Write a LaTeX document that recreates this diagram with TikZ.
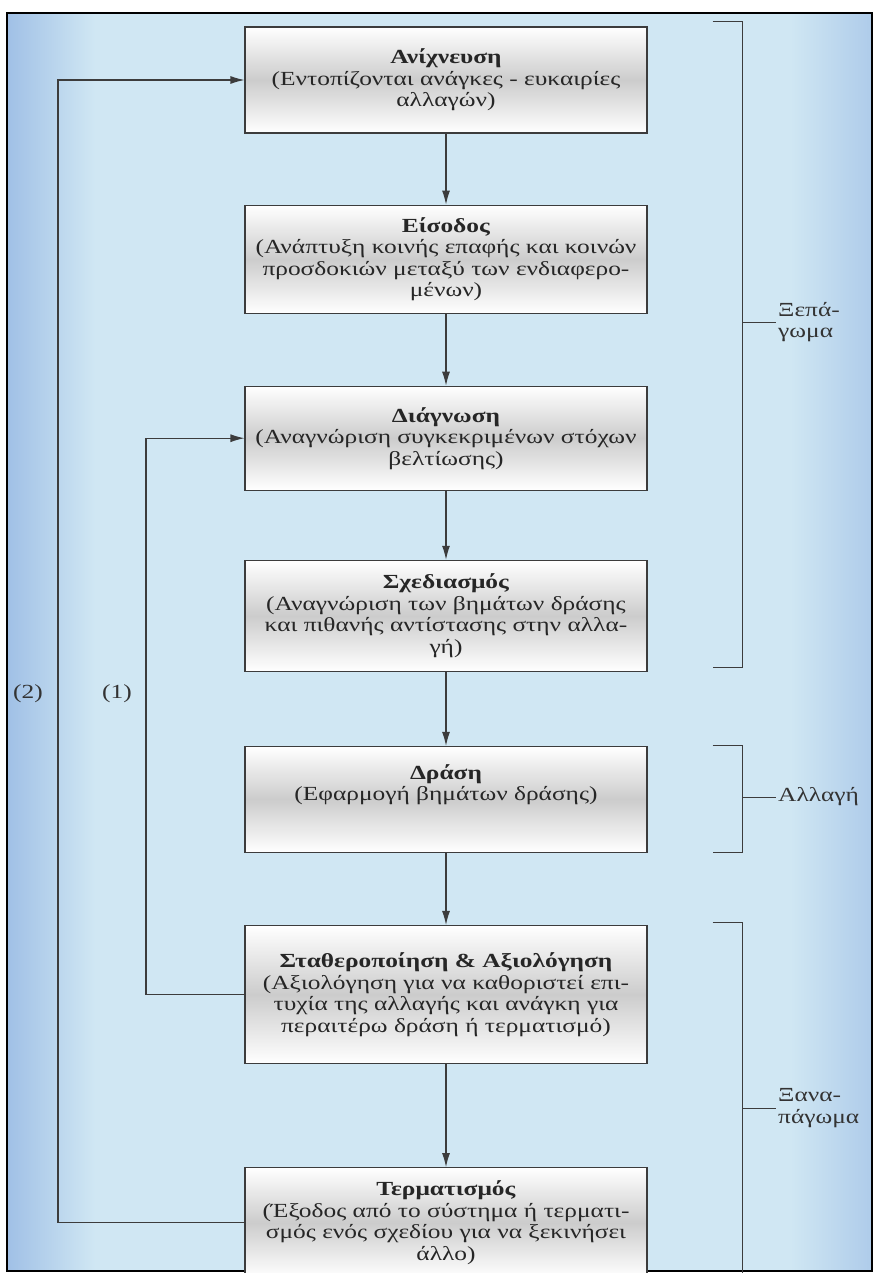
\documentclass[tikz,border=0pt]{standalone}
\usepackage{fontspec}
\setmainfont{Liberation Serif}[FakeStretch=1.27]
\usepackage{tikz}
\usetikzlibrary{arrows.meta,positioning,calc}

\definecolor{bgblue}{RGB}{208,231,243}
\definecolor{edgeblue}{RGB}{160,192,230}
\definecolor{linegray}{RGB}{60,60,60}

\begin{document}
\begin{tikzpicture}[
    x=1pt, y=-1pt,
    font=\fontsize{20}{21.5}\selectfont,
    stage/.style={rectangle, draw=linegray, line width=1.1pt, align=center,
        minimum width=402pt, inner sep=2pt, text=black!85,
        top color=white, bottom color=white, middle color=gray!40},
    side/.style={align=left, inner sep=2pt, text=black!80},
    arrow/.style={-{Latex[length=14pt,width=8pt]}, draw=linegray, line width=1.1pt},
    bracket/.style={draw=linegray, line width=1pt}
]
\useasboundingbox (0,0) rectangle (878,1273);

% Background
\fill[bgblue] (7,13) rectangle (872,1271);
\shade[left color=edgeblue, right color=bgblue] (7,13) rectangle (95,1271);
\shade[left color=bgblue, right color=edgeblue!70!bgblue] (790,13) rectangle (872,1271);
\draw[black, line width=2pt] (7,13) rectangle (872,1271);

% Stages
\node[stage, minimum height=106pt] (b1) at (446,80)
    {\textbf{Ανίχνευση}\\(Εντοπίζονται ανάγκες - ευκαιρίες\\αλλαγών)};
\node[stage, minimum height=108pt, below=71pt of b1] (b2)
    {\textbf{Είσοδος}\\(Ανάπτυξη κοινής επαφής και κοινών\\προσδοκιών μεταξύ των ενδιαφερο-\\μένων)};
\node[stage, minimum height=104pt, below=72pt of b2] (b3)
    {\textbf{Διάγνωση}\\(Αναγνώριση συγκεκριμένων στόχων\\βελτίωσης)};
\node[stage, minimum height=111pt, below=69pt of b3] (b4)
    {\textbf{Σχεδιασμός}\\(Αναγνώριση των βημάτων δράσης\\και πιθανής αντίστασης στην αλλα-\\γή)};
\node[stage, minimum height=106pt, below=74pt of b4] (b5)
    {\textbf{Δράση}\\(Εφαρμογή βημάτων δράσης)\\[12pt]};
\node[stage, minimum height=138pt, below=72pt of b5] (b6)
    {\textbf{Σταθεροποίηση \& Αξιολόγηση}\\(Αξιολόγηση για να καθοριστεί επι-\\τυχία της αλλαγής και ανάγκη για\\περαιτέρω δράση ή τερματισμό)};
\node[stage, minimum height=110pt, below=103pt of b6] (b7)
    {\textbf{Τερματισμός}\\(Έξοδος από το σύστημα ή τερματι-\\σμός ενός σχεδίου για να ξεκινήσει\\άλλο)};

% Arrows
\draw[arrow] (b1) -- (b2);
\draw[arrow] (b2) -- (b3);
\draw[arrow] (b3) -- (b4);
\draw[arrow] (b4) -- (b5);
\draw[arrow] (b5) -- (b6);
\draw[arrow] (b6) -- (b7);

% Feedback loops
\coordinate (loopA) at (146,0);
\coordinate (loopB) at (58,0);
\draw[arrow] (b6.west) -- (b6.west -| loopA) |- (b3.west);
\draw[arrow] (b7.west) -- (b7.west -| loopB) |- (b1.west);
\node[side] (lbl2) at (28,694) {(2)};
\node[side] (lbl1) at (117,694) {(1)};

% Brackets
\coordinate (brx) at (742,0);
\draw[bracket] ([xshift=65pt,yshift=5pt]b1.north east) -- ([yshift=5pt]b1.north -| brx)
    -- ([yshift=4pt]b4.south -| brx) -- ([xshift=65pt,yshift=4pt]b4.south east);
\draw[bracket] ([xshift=65pt]b5.north east) -- (b5.north -| brx)
    -- (b5.south -| brx) -- ([xshift=65pt]b5.south east);
\draw[bracket] ([xshift=65pt,yshift=2pt]b6.north east) -- ([yshift=2pt]b6.north -| brx)
    -- ([yshift=-3pt]b7.south -| brx) -- ([xshift=65pt,yshift=-3pt]b7.south east);

% Labels
\node[side, anchor=west] (xep) at (776,322) {Ξεπά-\\γωμα};
\node[side, anchor=west] (all) at (776,797) {Αλλαγή};
\node[side, anchor=west] (xan) at (776,1108) {Ξανα-\\πάγωμα};
\draw[bracket] (xep.west -| brx) -- (xep.west);
\draw[bracket] (all.west -| brx) -- (all.west);
\draw[bracket] (xan.west -| brx) -- (xan.west);

\end{tikzpicture}
\end{document}
